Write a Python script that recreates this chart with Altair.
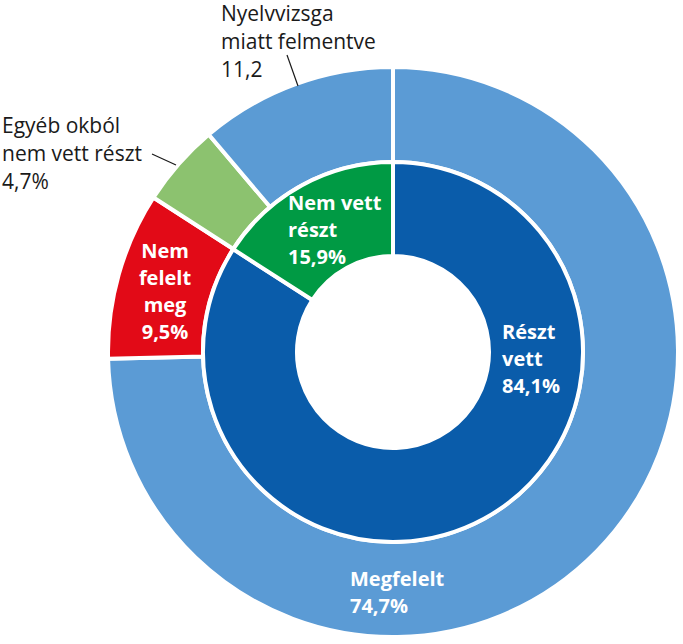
import altair as alt
import pandas as pd

# ---- data ----
inner_labels = ["Részt vett", "Nem vett részt"]
inner_values = [84.1, 15.9]
inner_colors = ["#0A5CAA", "#009A44"]

outer_labels = ["Megfelelt", "Nem felelt meg", "Egyéb okból nem vett részt", "Nyelvvizsga miatt felmentve"]
outer_values = [74.7, 9.5, 4.7, 11.2]
outer_colors = ["#5B9BD5", "#E20A17", "#8CC26F", "#5B9BD4"]

# label texts (lines)
inner_texts = ["Részt\nvett\n84,1%", "Nem vett\nrészt\n15,9%"]
outer_texts = ["Megfelelt\n74,7%", "Nem\nfelelt\nmeg\n9,5%",
               "Egyéb okból\nnem vett részt\n4,7%", "Nyelvvizsga\nmiatt felmentve\n11,2"]

CX, CY = 393, 352
FONT = "Open Sans"

inner_df = pd.DataFrame({"label": inner_labels, "value": inner_values, "ord": list(range(len(inner_labels)))})
outer_df = pd.DataFrame({"label": outer_labels, "value": outer_values, "ord": list(range(len(outer_labels)))})

outer = alt.Chart(outer_df).mark_arc(
    innerRadius=190, outerRadius=285, stroke="white", strokeWidth=4
).encode(
    theta=alt.Theta("value:Q", stack=True),
    order=alt.Order("ord:Q"),
    color=alt.Color("label:N", scale=alt.Scale(domain=outer_labels, range=outer_colors), legend=None),
    x=alt.value(CX), y=alt.value(CY),
)

inner = alt.Chart(inner_df).mark_arc(
    innerRadius=96, outerRadius=190, stroke="white", strokeWidth=4
).encode(
    theta=alt.Theta("value:Q", stack=True),
    order=alt.Order("ord:Q"),
    color=alt.Color("label:N", scale=alt.Scale(domain=inner_labels, range=inner_colors), legend=None),
    x=alt.value(CX), y=alt.value(CY),
)


def label(txt, x, y, align="left", color="white", bold=True, size=20, lh=27):
    return alt.Chart(pd.DataFrame({"t": [txt]})).mark_text(
        lineBreak="\n", lineHeight=lh, align=align, baseline="alphabetic",
        font=FONT, fontSize=size, fontWeight="bold" if bold else "normal", color=color,
    ).encode(text="t:N", x=alt.value(x), y=alt.value(y))


def leader(x1, y1, x2, y2):
    return alt.Chart(pd.DataFrame({"a": [0]})).mark_rule(color="#1a1a1a", strokeWidth=1.2).encode(
        x=alt.value(x1), y=alt.value(y1), x2=alt.value(x2), y2=alt.value(y2)
    )


labels = [
    label(inner_texts[0], 502, 339),
    label(inner_texts[1], 288, 210),
    label(outer_texts[0], 350, 586),
    label(outer_texts[1], 165, 258, align="center"),
    label(outer_texts[2], 2, 133, color="#1a1a1a", bold=False, size=21, lh=28),
    label(outer_texts[3], 221, 21, color="#1a1a1a", bold=False, size=21, lh=28),
    leader(287, 55, 298, 86),
    leader(152, 154, 176, 165),
]

chart = alt.layer(outer, inner, *labels).resolve_scale(
    color="independent", theta="independent"
).properties(
    width=683, height=644, autosize=alt.AutoSizeParams(type="none"), padding=0,
    background="white",
).configure_view(stroke=None)

chart.save("out.html", embed_options={"renderer": "svg", "actions": False})
